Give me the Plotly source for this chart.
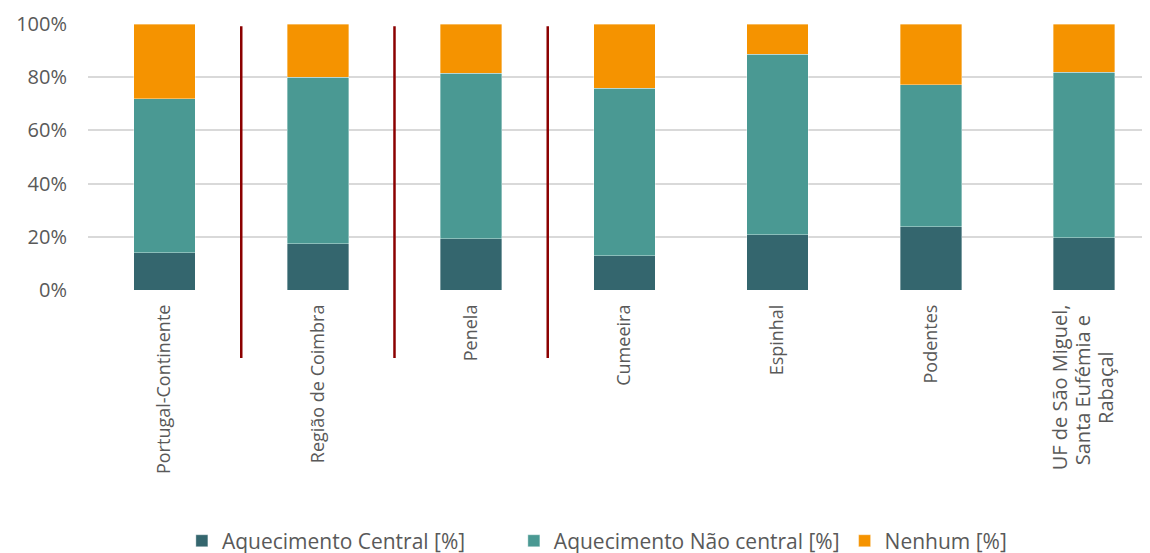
import plotly.graph_objects as go

NBSP = "\u00a0"


def maior(texto):
    return '<span style="font-size:20px">' + texto + "</span>"


categorias = [
    "Portugal-Continente",
    "Região de Coimbra",
    "Penela",
    "Cumeeira",
    "Espinhal",
    "Podentes",
    "<br>".join([maior("UF de São Miguel,"), maior("Santa Eufémia e" + NBSP * 2), maior("Rabaçal" + NBSP * 9)]),
]
central = [0.140, 0.174, 0.192, 0.129, 0.208, 0.238, 0.197]
nao_central = [0.579, 0.626, 0.623, 0.629, 0.678, 0.534, 0.621]
nenhum = [0.281, 0.200, 0.185, 0.242, 0.114, 0.228, 0.182]

# separadores verticais entre as primeiras categorias
separadores = [0.5, 1.5, 2.5]

series = [
    ("Aquecimento Central [%]" + NBSP * 8, central, "#34666E"),
    ("Aquecimento Não central [%]", nao_central, "#4A9993"),
    ("Nenhum [%]", nenhum, "#F59300"),
]

fig = go.Figure()
for nome, valores, cor in series:
    fig.add_trace(go.Bar(
        x=list(range(len(categorias))), y=valores, name=nome,
        marker=dict(color=cor, line=dict(color="rgba(255,255,255,0.45)", width=0.8)),
        width=0.4,
    ))

for xs in separadores:
    fig.add_shape(type="line", xref="x", yref="paper", x0=xs, x1=xs, y0=-0.256, y1=0.992,
                  line=dict(color="#8B0000", width=2.5))

# a página tem 8px de margem no body: a figura é deslocada
fig.update_layout(
    barmode="stack",
    width=1142, height=560,
    margin=dict(l=80, r=0, t=16, b=278),
    paper_bgcolor="white", plot_bgcolor="white",
    font=dict(family="Open Sans", color="#595959", size=18),
    showlegend=True,
    legend=dict(orientation="h", x=0.0884, xanchor="left", y=-0.944, yanchor="middle",
                font=dict(size=21, color="#595959"), traceorder="normal"),
    xaxis=dict(
        tickmode="array", tickvals=list(range(len(categorias))), ticktext=categorias,
        tickangle=-90, range=[-0.5, 6.43], showgrid=False, showline=False, zeroline=False,
        ticklabelstandoff=10, tickfont=dict(size=18, color="#595959"),
    ),
    yaxis=dict(
        range=[0, 1], tickformat=".0%", dtick=0.2, showgrid=True, gridcolor="#D9D9D9", gridwidth=1.5,
        zeroline=False, showline=False, ticklabelstandoff=20, tickfont=dict(size=20, color="#595959"),
    ),
)

fig.write_html("out.html")
